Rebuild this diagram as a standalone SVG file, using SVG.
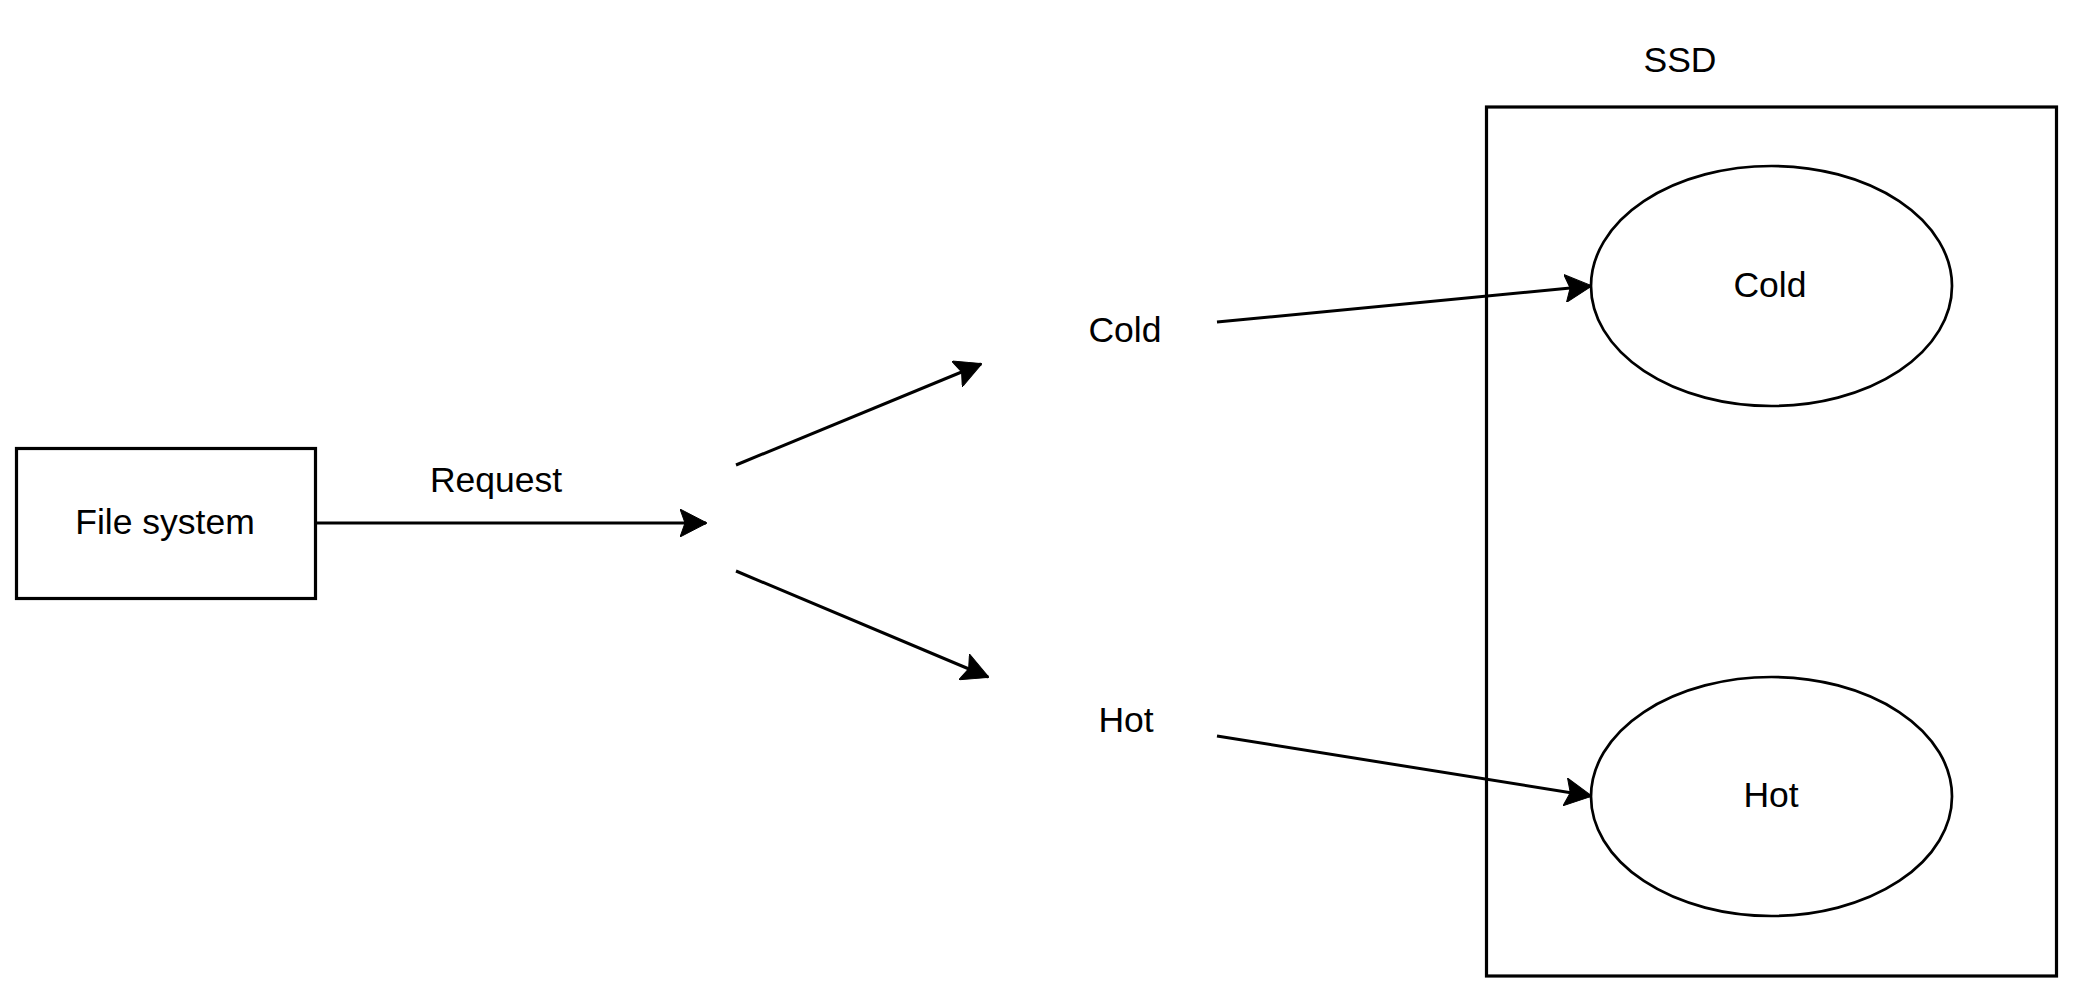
<svg xmlns="http://www.w3.org/2000/svg" width="2073" height="993" viewBox="0 0 2073 993">
<style>
.shape{fill:none;stroke:#000;stroke-width:3.2}
.oval{fill:none;stroke:#000;stroke-width:2.7}
.edge{fill:none;stroke:#000;stroke-width:3;marker-end:url(#arrow)}
text{font-family:"Liberation Sans",Arial,sans-serif;font-size:35.5px;fill:#000;text-anchor:middle}
</style>
<defs>
<marker id="arrow" viewBox="0 0 27 28" refX="26" refY="14" markerWidth="27" markerHeight="28" markerUnits="userSpaceOnUse" orient="auto">
<path d="M0,0 L27,14 L0,28 L5,14 Z" fill="#000" stroke="#000" stroke-width="1" stroke-linejoin="miter"/>
</marker>
</defs>
<rect width="2073" height="993" fill="#fff"/>
<g id="ssd">
<rect class="shape" x="1486.5" y="107" width="570" height="869"/>
<text x="1680" y="72">SSD</text>
</g>
<g id="file-system">
<rect class="shape" x="16.5" y="448.5" width="299" height="150"/>
<text x="165" y="534">File system</text>
</g>
<g id="request-label"><text x="496" y="492">Request</text></g>
<g id="cold-label"><text x="1125" y="342">Cold</text></g>
<g id="hot-label"><text x="1126" y="732">Hot</text></g>
<g id="connectors">
<line class="edge" x1="316" y1="523" x2="706" y2="523"/>
<line class="edge" x1="736" y1="465" x2="981" y2="364"/>
<line class="edge" x1="736" y1="571" x2="988" y2="677"/>
<line class="edge" x1="1217" y1="322" x2="1591" y2="286"/>
<line class="edge" x1="1217" y1="736" x2="1591" y2="796"/>
</g>
<g id="cold">
<ellipse class="oval" cx="1771.5" cy="286" rx="180.5" ry="120"/>
<text x="1770" y="297">Cold</text>
</g>
<g id="hot">
<ellipse class="oval" cx="1771.5" cy="796.5" rx="180.5" ry="119.5"/>
<text x="1771" y="807">Hot</text>
</g>
</svg>
